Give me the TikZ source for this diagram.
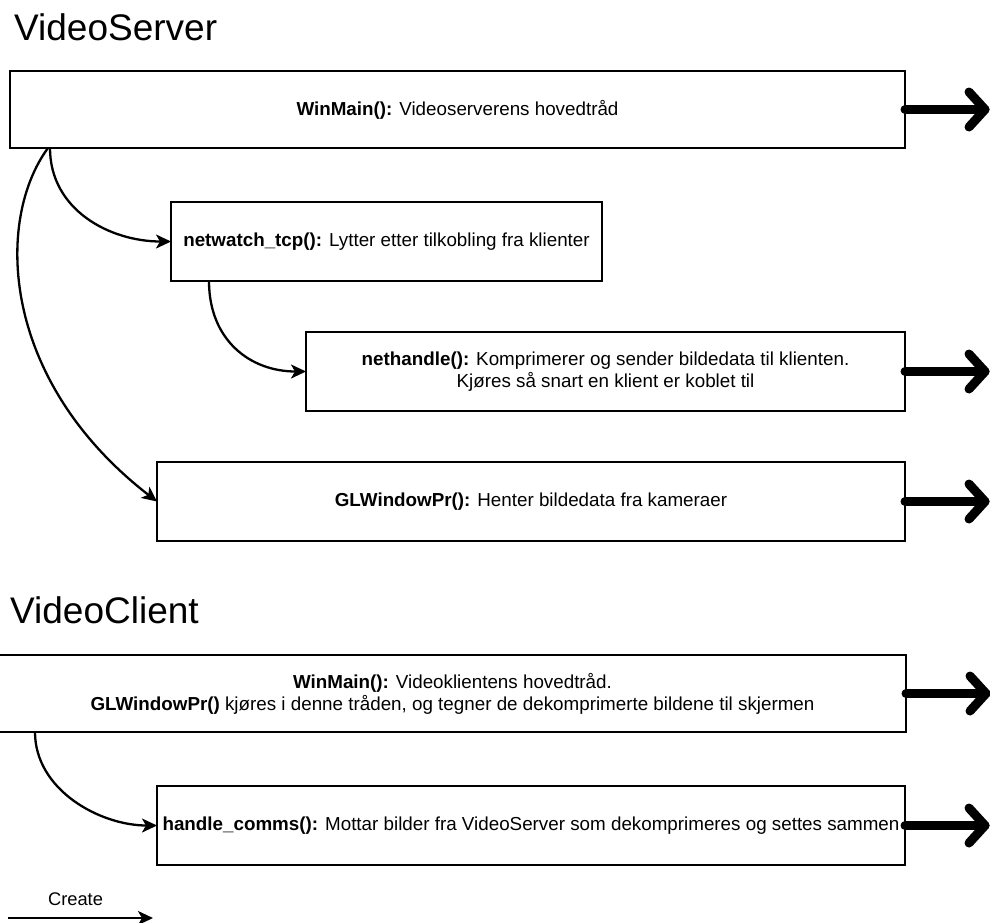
\documentclass[tikz,border=0pt]{standalone}
\usepackage{fontspec}
\setmainfont{Liberation Sans}
\usetikzlibrary{arrows.meta,calc}

\tikzset{
  box/.style={draw=black, line width=1.2pt, fill=white, inner sep=0pt, outer sep=0pt,
    align=center, font=\fontsize{18.8}{22}\selectfont},
  title/.style={anchor=base west, inner sep=0pt, font=\fontsize{37}{40}\selectfont},
  create/.style={draw=black, line width=2.3pt, -{Stealth[length=15pt,width=14pt,inset=4pt]}},
  fat/.style={draw=black, line width=9pt, line cap=round, line join=round},
}

\begin{document}
\begin{tikzpicture}[x=1pt,y=-1pt]
\useasboundingbox (0,0) rectangle (990,922);

% section titles
\node[title] (ts) at (14,40) {VideoServer};
\node[title] (tc) at (10,623) {VideoClient};

% server threads
\node[box, minimum width=895pt, minimum height=77pt] (w1) at (457.5,109.5)
  {\textbf{WinMain():} Videoserverens hovedtråd};
\node[box, minimum width=431pt, minimum height=79pt] (w2) at (386.5,241.5)
  {\textbf{netwatch\_tcp():} Lytter etter tilkobling fra klienter};
\node[box, minimum width=599pt, minimum height=79pt] (w3) at (605.5,371.5)
  {\textbf{nethandle():} Komprimerer og sender bildedata til klienten.\\Kjøres så snart en klient er koblet til};
\node[box, minimum width=748pt, minimum height=79pt] (w4) at (531,501.5)
  {\textbf{GLWindowPr():} Henter bildedata fra kameraer};

% client threads
\node[box, minimum width=907pt, minimum height=77pt] (w5) at (452.5,693.5)
  {\textbf{WinMain():} Videoklientens hovedtråd.\\\textbf{GLWindowPr()} kjøres i denne tråden, og tegner de dekomprimerte bildene til skjermen};
\node[box, minimum width=748pt, minimum height=79pt] (w6) at (531,825.5)
  {\textbf{handle\_comms():} Mottar bilder fra VideoServer som dekomprimeres og settes sammen};

% thread creation
\draw[create] ($(w1.south west)+(40,0)$) .. controls (50,210) and (110,241.5) .. (w2.west);
\draw[create] ($(w1.south west)+(38,0)$) .. controls (-5,220) and (0,380) .. (w4.west);
\draw[create] ($(w2.south west)+(38,0)$) .. controls (209,340) and (250,371.5) .. (w3.west);
\draw[create] ($(w5.south west)+(36,0)$) .. controls (35,790) and (100,825.5) .. (w6.west);

% running threads
\foreach \n in {w1,w3,w4,w5,w6} {
  \draw[fat] (\n.east) -- ++(80,0) coordinate (\n-tip);
  \draw[fat] ($(\n-tip)+(-16,-17.5)$) -- (\n-tip) -- ($(\n-tip)+(-16,17.5)$);
}

% legend
\node[anchor=base, inner sep=0pt, font=\fontsize{18.3}{20}\selectfont] (lg) at (75.5,905) {Create};
\coordinate (la) at (8,918);
\coordinate (lb) at (153,918);
\draw[create] (la) -- (lb);
\end{tikzpicture}
\end{document}
